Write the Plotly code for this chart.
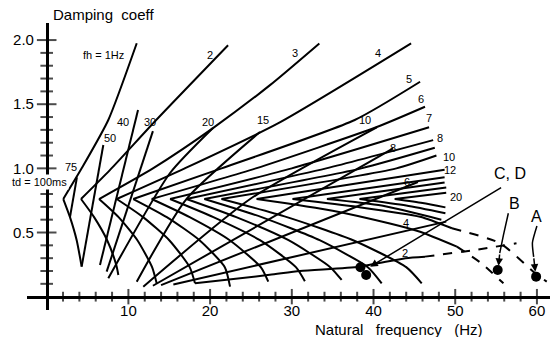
import plotly.graph_objects as go

# ---------------- data ----------------
# upper branches of the fh curves (x = natural frequency Hz, y = damping coeff)
up_labels = ["1", "2", "3", "4", "5", "6", "7", "8", "9", "10", "12", "14", "16", "18", "20"]
up_x = [
    [2.03, 4.28, 7.54, 11.02],
    [4.2, 7.76, 13.4, 22.2],
    [6.41, 13.0, 20.35, 27.33, 33.37],
    [8.57, 16.9, 28.3, 44.6],
    [10.6, 21.4, 37.7, 45.7],
    [12.85, 25.6, 40.4, 46.3],
    [15.1, 30.0, 46.8],
    [17.1, 34.2, 47.3],
    [19.3, 38.5, 47.5],
    [21.4, 42.8, 47.7],
    [25.7, 48.7],
    [30.1, 48.7],
    [34.3, 48.7],
    [38.3, 48.9],
    [42.6, 48.9],
]
up_y = [
    [0.761, 1.0, 1.377, 1.975],
    [0.761, 0.988, 1.377, 1.96],
    [0.761, 1.0, 1.314, 1.649, 1.974],
    [0.761, 1.0, 1.35, 1.974],
    [0.761, 1.0, 1.377, 1.675],
    [0.761, 1.0, 1.322, 1.48],
    [0.761, 1.0, 1.32],
    [0.761, 1.0, 1.22],
    [0.761, 1.0, 1.16],
    [0.761, 1.0, 1.10],
    [0.761, 0.99],
    [0.761, 0.93],
    [0.761, 0.89],
    [0.761, 0.85],
    [0.761, 0.81],
]
# lower (arc) branches of the fh curves
arc_x = [
    [2.03, 2.85, 3.67, 4.28],
    [4.2, 5.8, 7.4, 8.5, 8.77],
    [6.41, 8.8, 11.1, 12.9, 13.46],
    [8.57, 11.8, 15.0, 17.5, 18.15],
    [10.6, 14.7, 18.7, 21.8, 22.44],
    [12.85, 17.5, 22.4, 26.2, 27.12],
    [15.1, 20.4, 26.1, 30.5, 31.6],
    [17.1, 23.2, 29.6, 34.7, 36.1],
    [19.3, 26.3, 33.4, 39.3, 41.0],
    [21.4, 29.4, 37.5, 44.0, 45.9],
    [25.7, 35.0, 42.0, 45.7, 50.2],
    [30.1, 38.0, 45.7, 49.6],
    [34.3, 41.0, 48.3],
    [38.3, 44.0, 48.8],
    [42.6, 46.0, 48.8],
]
arc_y = [
    [0.761, 0.62, 0.44, 0.234],
    [0.761, 0.62, 0.44, 0.25, 0.169],
    [0.761, 0.62, 0.44, 0.23, 0.104],
    [0.761, 0.62, 0.44, 0.23, 0.104],
    [0.761, 0.62, 0.44, 0.23, 0.078],
    [0.761, 0.62, 0.44, 0.23, 0.117],
    [0.761, 0.62, 0.44, 0.23, 0.12],
    [0.761, 0.62, 0.44, 0.23, 0.13],
    [0.761, 0.62, 0.44, 0.23, 0.104],
    [0.761, 0.62, 0.44, 0.23, 0.104],
    [0.761, 0.67, 0.57, 0.506, 0.39],
    [0.761, 0.70, 0.623, 0.533],
    [0.761, 0.71, 0.60],
    [0.761, 0.71, 0.65],
    [0.761, 0.73, 0.696],
]
# dashed continuations (fh = 12, fh = 14, td = 2)
dash_x = [[50.2, 53.2, 55.9], [49.6, 55.5, 59.8, 61.2], [46.3, 52.0, 57.5]]
dash_y = [[0.39, 0.26, 0.104], [0.533, 0.416, 0.182, 0.117], [0.312, 0.36, 0.416]]

# td lines
td_labels = ["75", "50", "40", "30", "20", "15", "10", "8", "6", "4", "2"]
td_x = [
    [2.85, 3.7],
    [4.28, 6.93],
    [6.52, 11.18],
    [7.34, 13.0],
    [7.54, 15.1, 20.35],
    [11.02, 17.1, 26.1],
    [11.82, 24.9, 40.4],
    [13.0, 42.4],
    [14.0, 45.44],
    [15.5, 48.9],
    [18.15, 27.3, 31.0, 38.3, 43.9, 46.3],
]
td_y = [
    [0.62, 0.93],
    [0.234, 1.182],
    [0.247, 1.455],
    [0.195, 1.29],
    [0.143, 0.964, 1.315],
    [0.117, 0.761, 1.283],
    [0.078, 0.761, 1.32],
    [0.085, 1.156],
    [0.09, 0.894],
    [0.095, 0.585],
    [0.104, 0.17, 0.2, 0.234, 0.3, 0.312],
]

# measured points
pt_names = ["C", "D", "B", "A"]
pt_x = [38.4, 39.1, 55.2, 59.9]
pt_y = [0.229, 0.169, 0.208, 0.156]

# pointer curves for B and A (label -> point)
b_arrow_x = [56.5, 55.9, 55.45]
b_arrow_y = [0.65, 0.48, 0.34]
a_arrow_x = [60.0, 59.45, 59.6]
a_arrow_y = [0.55, 0.42, 0.31]

# axis ticks
x_minor = list(range(2, 62, 2))
y_minor = [round(0.1 * i, 1) for i in range(1, 21)]
x_labels = [10, 20, 30, 40, 50, 60]
y_labels = [0.5, 1.0, 1.5, 2.0]

# ---------------- figure ----------------
LW = 2
fig = go.Figure()


def add_line(xs, ys, dash="solid", width=LW, smooth=0.6):
    fig.add_trace(go.Scatter(x=xs, y=ys, mode="lines",
                             line=dict(color="black", width=width, dash=dash, shape="spline", smoothing=smooth),
                             hoverinfo="skip", showlegend=False))


for xs, ys in zip(up_x, up_y):
    add_line(xs, ys)
for xs, ys in zip(arc_x, arc_y):
    add_line(xs, ys)
for xs, ys in zip(td_x, td_y):
    add_line(xs, ys)
for xs, ys in zip(dash_x, dash_y):
    add_line(xs, ys, dash="dash")
add_line(b_arrow_x, b_arrow_y, width=1.5)
add_line(a_arrow_x, a_arrow_y, width=1.5)

# tick marks crossing the axes
fig.add_trace(go.Scatter(x=x_minor, y=[0] * len(x_minor), mode="markers",
                         marker=dict(symbol="line-ns", size=[11 if v % 10 == 0 else 7 for v in x_minor],
                                     line=dict(color="black", width=2)),
                         hoverinfo="skip", showlegend=False))
fig.add_trace(go.Scatter(x=[0] * len(y_minor), y=y_minor, mode="markers",
                         marker=dict(symbol="line-ew",
                                     size=[14 if abs(v * 2 - round(v * 2)) < 1e-6 else 9 for v in y_minor],
                                     line=dict(color="black", width=2)),
                         hoverinfo="skip", showlegend=False))

# points
fig.add_trace(go.Scatter(x=pt_x, y=pt_y, mode="markers", marker=dict(color="black", size=10),
                         hoverinfo="skip", showlegend=False))

FONT = "Liberation Sans, Arial, sans-serif"
small = dict(family=FONT, size=11, color="black")

ann = []
up_lab_pos = [(6.9, 1.88), (20.0, 1.88), (30.4, 1.896), (40.6, 1.896), (44.3, 1.696), (45.8, 1.538),
              (46.8, 1.39), (48.1, 1.234), None, (49.2, 1.09), (49.4, 0.987), None, None, None, (50.1, 0.774)]
for lab, pos in zip(up_labels, up_lab_pos):
    if pos is None:
        continue
    txt = "fh = 1Hz" if lab == "1" else lab
    ann.append(dict(x=pos[0], y=pos[1], xref="x", yref="y", text=txt, showarrow=False, font=small))
td_lab_pos = [(2.97, 1.01), (7.75, 1.234), (9.4, 1.363), (12.6, 1.363), (19.8, 1.363), (26.5, 1.377),
              (39.0, 1.377), (42.4, 1.156), (44.1, 0.896), (44.0, 0.577), (43.9, 0.338)]
for lab, pos in zip(td_labels, td_lab_pos):
    ann.append(dict(x=pos[0], y=pos[1], xref="x", yref="y", text=lab, showarrow=False, font=small))
ann.append(dict(x=-0.82, y=0.893, xref="x", yref="y", text="td = 100ms", showarrow=False, font=small,
                bgcolor="white"))

big = dict(family=FONT, size=16, color="black")
ann.append(dict(x=56.7, y=0.961, xref="x", yref="y", text="C, D", showarrow=False, font=big))
ann.append(dict(x=57.3, y=0.728, xref="x", yref="y", text="B", showarrow=False, font=big))
ann.append(dict(x=60.0, y=0.623, xref="x", yref="y", text="A", showarrow=False, font=big))
# arrows
ann.append(dict(x=39.6, y=0.234, ax=55.8, ay=0.857, axref="x", ayref="y", xref="x", yref="y", text="",
                showarrow=True, arrowhead=2, arrowsize=1, arrowwidth=1.5, arrowcolor="black"))
ann.append(dict(x=55.3, y=0.24, ax=b_arrow_x[-1], ay=b_arrow_y[-1], axref="x", ayref="y", xref="x", yref="y",
                text="", showarrow=True, arrowhead=2, arrowsize=1, arrowwidth=1.5, arrowcolor="black"))
ann.append(dict(x=59.8, y=0.195, ax=a_arrow_x[-1], ay=a_arrow_y[-1], axref="x", ayref="y", xref="x", yref="y",
                text="", showarrow=True, arrowhead=2, arrowsize=1, arrowwidth=1.5, arrowcolor="black"))

ann.append(dict(x=0.146, y=1.03, xref="paper", yref="paper", text="Damping&nbsp;&nbsp;coeff", showarrow=False,
                font=dict(family=FONT, size=15, color="black"), xanchor="center", yanchor="middle"))
ann.append(dict(x=0.711, y=-0.068, xref="paper", yref="paper",
                text="Natural&nbsp;&nbsp;&nbsp;frequency&nbsp;&nbsp;&nbsp;(Hz)",
                showarrow=False, font=dict(family=FONT, size=15, color="black"), xanchor="center",
                yanchor="middle"))

xmin, xmax = -2.41, 61.6
ymin, ymax = -0.104, 2.133
fig.update_layout(
    width=558, height=337, margin=dict(l=27, r=8, t=23, b=27),
    paper_bgcolor="white", plot_bgcolor="white",
    annotations=ann,
    xaxis=dict(range=[xmin, xmax], showgrid=False, zeroline=False, showline=True, linecolor="black", linewidth=2.5,
               anchor="free", position=(0 - ymin) / (ymax - ymin), tickvals=x_labels,
               ticks="", tickfont=dict(family=FONT, size=15, color="black")),
    yaxis=dict(range=[ymin, ymax], showgrid=False, zeroline=False, showline=True, linecolor="black", linewidth=2.5,
               anchor="free", position=(0 - xmin) / (xmax - xmin), tickvals=y_labels,
               ticktext=["0.5", "1.0", "1.5", "2.0"],
               ticks="outside", ticklen=9, tickcolor="rgba(0,0,0,0)",
               tickfont=dict(family=FONT, size=15, color="black")),
)
fig.write_html("out.html", config={"displayModeBar": False},
               post_script="document.body.style.margin='0px';document.body.style.overflow='hidden';")
